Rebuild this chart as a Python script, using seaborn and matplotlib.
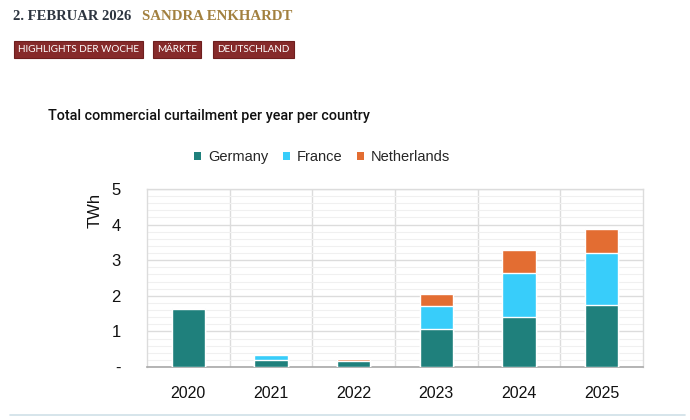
import matplotlib
matplotlib.use("Agg")
import matplotlib.pyplot as plt
from matplotlib.ticker import MultipleLocator, FixedLocator, FuncFormatter
from matplotlib.patches import Patch
import seaborn as sns
import pandas as pd
import numpy as np

years = ["2020", "2021", "2022", "2023", "2024", "2025"]
germany = [1.63, 0.20, 0.17, 1.08, 1.41, 1.75]
france = [0.04, 0.15, 0.01, 0.62, 1.24, 1.44]
netherlands = [0.00, 0.01, 0.04, 0.34, 0.64, 0.70]
countries = ["Germany", "France", "Netherlands"]
colors = {"Germany": "#1f807c", "France": "#38cdfa", "Netherlands": "#e36d32"}

title = "Total commercial curtailment per year per country"
header_date = "2. FEBRUAR 2026"
header_author = "SANDRA ENKHARDT"
tags = ["HIGHLIGHTS DER WOCHE", "MÄRKTE", "DEUTSCHLAND"]

sns.set_theme(style="white")
plt.rcParams["font.family"] = ["Liberation Sans", "DejaVu Sans"]

W, H = 690, 420
fig = plt.figure(figsize=(W / 100, H / 100), dpi=100)
fig.patch.set_facecolor("white")

def fx(px):
    return px / W

def fy(py):
    return 1 - py / H

ax = fig.add_axes([fx(147), fy(367), fx(643) - fx(147), fy(189) - fy(367)])

g = np.array(germany)
f = np.array(france)
n = np.array(netherlands)
stack = pd.DataFrame({
    "year": years * 3,
    "value": np.concatenate([g + f + n, g + f, g]),
    "country": ["Netherlands"] * 6 + ["France"] * 6 + ["Germany"] * 6,
})
for c in ["Netherlands", "France", "Germany"]:
    sub = stack[stack["country"] == c]
    sns.barplot(data=sub, x="year", y="value", color=colors[c], width=0.4,
                ax=ax, saturation=1, zorder=3)

ax.set_ylim(0, 5)
ax.set_xlim(-0.5, len(years) - 0.5)
ax.yaxis.set_major_locator(MultipleLocator(1))
ax.yaxis.set_minor_locator(MultipleLocator(0.2))
ax.xaxis.set_minor_locator(FixedLocator(np.arange(len(years) - 1) + 0.5))
ax.grid(which="major", axis="y", color="#dcdcdc", linewidth=1.0, zorder=0)
ax.grid(which="minor", axis="y", color="#f0f0f0", linewidth=0.8, zorder=0)
ax.grid(which="minor", axis="x", color="#dcdcdc", linewidth=1.0, zorder=0)
ax.set_axisbelow(True)
ax.yaxis.set_major_formatter(FuncFormatter(lambda v, p: "-" if abs(v) < 1e-9 else f"{v:.0f}"))
ax.tick_params(axis="both", which="both", length=0)
ax.tick_params(axis="y", labelsize=12, pad=19, colors="#111111")
ax.tick_params(axis="x", labelsize=11.5, pad=14, colors="#111111")
ax.set_xlabel("")
ax.set_ylabel("")
for side in ["top", "right", "left"]:
    ax.spines[side].set_color("#dcdcdc")
    ax.spines[side].set_linewidth(1.0)
ax.spines["bottom"].set_color("#a8a8a8")
ax.spines["bottom"].set_linewidth(1.2)

fig.text(fx(95), fy(210), "TWh", rotation=90, ha="center", va="center",
         fontsize=12, color="#111111")

# Title
fig.text(fx(48), fy(116), title, ha="left", va="center", fontsize=10.4,
         color="#111111", fontweight="medium", family=["Roboto", "DejaVu Sans"])

# Legend
handles = [Patch(facecolor=colors[c], edgecolor="none") for c in countries]
fig.legend(handles, countries, loc="center", bbox_to_anchor=(fx(322), fy(157)),
           ncol=3, frameon=False, fontsize=10.5, handlelength=0.5, handleheight=0.5,
           handletextpad=0.45, columnspacing=1.0)

# Header
fig.text(fx(13), fy(16), header_date, ha="left", va="center", fontsize=10.5,
         fontweight="bold", color="#2d3540", family=["Liberation Serif", "DejaVu Serif"])
fig.text(fx(142), fy(16), header_author, ha="left", va="center", fontsize=10.7,
         fontweight="bold", color="#a2803f", family=["Liberation Serif", "DejaVu Serif"])

tag_x = [18, 157, 217]
for x, t in zip(tag_x, tags):
    fig.text(fx(x), fy(49.5), t, ha="left", va="center", fontsize=7.1,
             color="white", family=["Lato", "DejaVu Sans"],
             bbox=dict(boxstyle="square,pad=0.42", facecolor="#862a2a",
                       edgecolor="#6e1e1e", linewidth=0.8))

# Bottom separator line
fig.add_artist(plt.Line2D([fx(10), fx(685)], [fy(415), fy(415)],
                          color="#cfe0e8", linewidth=1.2, transform=fig.transFigure))

fig.savefig("out.png", dpi=100, facecolor="white")
